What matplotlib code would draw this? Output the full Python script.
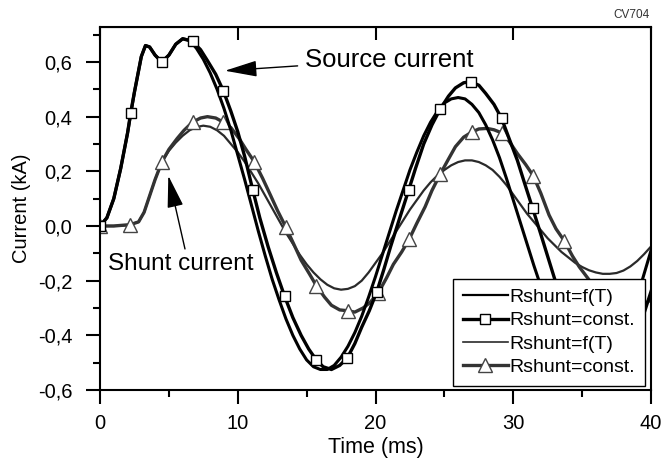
import matplotlib
matplotlib.use("Agg")
import matplotlib.pyplot as plt
from matplotlib.lines import Line2D
from matplotlib.ticker import MultipleLocator, FuncFormatter

plt.rcParams['font.family'] = ['Liberation Sans', 'DejaVu Sans']

# source current, Rshunt=f(T)
src_ft_t = [0, 0.5, 1, 1.5, 2, 2.5, 3, 3.3, 3.6, 4, 4.5, 5, 5.5, 6, 6.5, 7, 7.5, 8, 8.5, 9,
            9.5, 10, 10.5, 11, 11.5, 12, 12.5, 13, 13.5, 14, 14.5, 15, 15.5, 16, 16.5, 17,
            17.5, 18, 18.5, 19, 19.5, 20, 20.5, 21, 21.5, 22, 22.5, 23, 23.5, 24, 24.5, 25,
            25.5, 26, 26.5, 27, 27.5, 28, 28.5, 29, 29.5, 30, 30.5, 31, 31.5, 32, 33, 34,
            35, 36, 37, 38, 39, 40]
src_ft_i = [0.0, 0.03, 0.10, 0.21, 0.34, 0.49, 0.62, 0.66, 0.655, 0.625, 0.60, 0.625, 0.665,
            0.685, 0.68, 0.65, 0.61, 0.56, 0.50, 0.43, 0.35, 0.26, 0.17, 0.075, -0.02, -0.11,
            -0.195, -0.27, -0.34, -0.40, -0.45, -0.49, -0.515, -0.525, -0.525, -0.51, -0.48,
            -0.44, -0.39, -0.33, -0.26, -0.185, -0.105, -0.025, 0.055, 0.13, 0.205, 0.27, 0.33,
            0.38, 0.42, 0.45, 0.465, 0.47, 0.465, 0.445, 0.415, 0.37, 0.315, 0.25, 0.175, 0.095,
            0.015, -0.065, -0.145, -0.22, -0.35, -0.45, -0.50, -0.51, -0.48, -0.40, -0.26, -0.09]

# source current, Rshunt=const.
src_c_t = [0, 0.5, 1, 1.5, 2, 2.23, 2.5, 3, 3.3, 3.6, 4, 4.48, 5, 5.5, 6, 6.72, 7.3, 7.8, 8.4,
           8.95, 9.5, 10, 10.5, 11.1, 11.6, 12.2, 12.8, 13.4, 14, 14.6, 15.15, 15.7, 16.2, 16.8,
           17.4, 17.95, 18.5, 19, 19.55, 20.1, 20.6, 21.1, 21.7, 22.4, 22.9, 23.5, 24.1, 24.7,
           25.3, 25.8, 26.4, 26.9, 27.5, 28, 28.6, 29.15, 29.7, 30.3, 30.8, 31.4, 32, 32.8, 33.6,
           34.5, 35.5, 36.5, 37.5, 38.5, 39.3, 40]
src_c_i = [0.0, 0.03, 0.10, 0.21, 0.34, 0.415, 0.49, 0.62, 0.66, 0.655, 0.625, 0.60, 0.625,
           0.665, 0.685, 0.675, 0.645, 0.605, 0.555, 0.495, 0.42, 0.345, 0.255, 0.13, 0.03,
           -0.075, -0.17, -0.257, -0.335, -0.40, -0.45, -0.49, -0.515, -0.525, -0.51, -0.483,
           -0.43, -0.37, -0.31, -0.24, -0.16, -0.075, 0.02, 0.13, 0.21, 0.30, 0.37, 0.428, 0.475,
           0.505, 0.524, 0.528, 0.515, 0.485, 0.445, 0.394, 0.32, 0.24, 0.16, 0.066, -0.03,
           -0.16, -0.29, -0.40, -0.49, -0.53, -0.52, -0.45, -0.35, -0.24]
src_mk_t = [0, 2.23, 4.48, 6.72, 8.95, 11.1, 13.4, 15.7, 17.95, 20.1, 22.4, 24.7, 26.9, 29.15,
            31.4, 33.6, 35.9, 38.1]
src_mk_i = [0.0, 0.415, 0.60, 0.675, 0.495, 0.13, -0.257, -0.49, -0.483, -0.24, 0.13, 0.428,
            0.528, 0.394, 0.066, -0.29, -0.51, -0.48]

# shunt current, Rshunt=f(T)
sh_ft_t = [0, 1, 2, 2.8, 3.2, 3.6, 4, 4.5, 5, 5.5, 6, 6.5, 7, 7.5, 8, 8.5, 9, 9.5, 10, 10.5,
           11, 11.5, 12, 12.5, 13, 13.5, 14, 14.5, 15, 15.5, 16, 16.5, 17, 17.5, 18, 18.5, 19,
           19.5, 20, 20.5, 21, 21.5, 22, 22.5, 23, 23.5, 24, 24.5, 25, 25.5, 26, 26.5, 27, 27.5,
           28, 28.5, 29, 29.5, 30, 30.5, 31, 31.5, 32, 32.5, 33, 33.5, 34, 34.5, 35, 35.5, 36,
           36.5, 37, 37.5, 38, 38.5, 39, 39.5, 40]
sh_ft_i = [0.0, 0.0, 0.003, 0.015, 0.05, 0.11, 0.17, 0.235, 0.275, 0.305, 0.33, 0.35, 0.362,
           0.367, 0.363, 0.35, 0.33, 0.30, 0.27, 0.235, 0.195, 0.155, 0.11, 0.065, 0.02, -0.025,
           -0.065, -0.105, -0.14, -0.17, -0.195, -0.215, -0.228, -0.233, -0.23, -0.22, -0.20,
           -0.17, -0.135, -0.10, -0.06, -0.02, 0.02, 0.06, 0.095, 0.13, 0.16, 0.185, 0.205,
           0.222, 0.234, 0.24, 0.24, 0.234, 0.222, 0.205, 0.18, 0.15, 0.115, 0.08, 0.045, 0.015,
           -0.015, -0.045, -0.07, -0.095, -0.115, -0.135, -0.15, -0.162, -0.17, -0.175, -0.175,
           -0.172, -0.163, -0.148, -0.128, -0.103, -0.075]

# shunt current, Rshunt=const.
sh_c_t = [0, 1, 2.2, 2.8, 3.2, 3.6, 4.0, 4.5, 5.0, 5.6, 6.1, 6.72, 7.3, 7.8, 8.4, 8.95, 9.5,
          10.1, 10.6, 11.2, 11.8, 12.4, 12.9, 13.5, 14.1, 14.6, 15.2, 15.7, 16.3, 16.8, 17.4,
          17.97, 18.5, 19.1, 19.6, 20.2, 20.8, 21.3, 21.9, 22.45, 23.0, 23.6, 24.1, 24.7, 25.3,
          25.8, 26.4, 26.97, 27.5, 28.1, 28.6, 29.2, 29.7, 30.3, 30.9, 31.45, 32.0, 32.6, 33.1,
          33.7, 34.3, 34.8, 35.4, 35.9, 37.0, 38.2, 39.2, 40]
sh_c_i = [0.0, 0.0, 0.005, 0.015, 0.05, 0.11, 0.17, 0.235, 0.28, 0.32, 0.35, 0.38, 0.395,
          0.40, 0.395, 0.38, 0.36, 0.32, 0.28, 0.235, 0.175, 0.11, 0.055, -0.005, -0.07, -0.125,
          -0.175, -0.218, -0.26, -0.29, -0.307, -0.31, -0.315, -0.30, -0.28, -0.245, -0.19,
          -0.14, -0.095, -0.048, 0.01, 0.07, 0.13, 0.19, 0.245, 0.29, 0.325, 0.343, 0.355,
          0.357, 0.352, 0.34, 0.31, 0.265, 0.225, 0.184, 0.12, 0.04, -0.01, -0.054, -0.11,
          -0.15, -0.19, -0.225, -0.285, -0.31, -0.295, -0.27]
sh_mk_t = [0, 2.2, 4.5, 6.72, 8.95, 11.2, 13.5, 15.7, 17.97, 20.2, 22.45, 24.7, 26.97, 29.2,
           31.45, 33.7, 35.9, 38.2]
sh_mk_i = [0.0, 0.005, 0.235, 0.38, 0.38, 0.235, -0.005, -0.218, -0.31, -0.245, -0.048, 0.19,
           0.343, 0.34, 0.184, -0.054, -0.225, -0.31]

legend_labels = ['Rshunt=f(T)', 'Rshunt=const.', 'Rshunt=f(T)', 'Rshunt=const.']

fig = plt.figure(figsize=(6.62, 4.63), dpi=100)
ax = fig.add_axes([100 / 662, 1 - 390 / 463, 551 / 662, 363 / 463])

grey = '#333333'
ax.plot(sh_ft_t, sh_ft_i, color='#2a2a2a', lw=1.6, solid_joinstyle='round')
ax.plot(sh_c_t, sh_c_i, color=grey, lw=2.4, solid_joinstyle='round')
ax.plot(sh_mk_t, sh_mk_i, ls='none', marker='^', ms=9.5, mfc='white', mec='#444444', mew=1.0)
ax.plot(src_ft_t, src_ft_i, color='black', lw=2.2, solid_joinstyle='round')
ax.plot(src_c_t, src_c_i, color='black', lw=2.4, solid_joinstyle='round')
ax.plot(src_mk_t, src_mk_i, ls='none', marker='s', ms=7, mfc='white', mec='black', mew=1.0)

ax.set_xlim(0, 40)
ax.set_ylim(-0.6, 0.728)
ax.xaxis.set_major_locator(MultipleLocator(10))
ax.xaxis.set_minor_locator(MultipleLocator(5))
ax.yaxis.set_major_locator(MultipleLocator(0.2))
ax.yaxis.set_minor_locator(MultipleLocator(0.1))
ax.yaxis.set_major_formatter(FuncFormatter(lambda v, p: f'{v:.1f}'.replace('.', ',').replace('-0,0', '0,0')))
ax.xaxis.set_major_formatter(FuncFormatter(lambda v, p: f'{v:.0f}'))
for s in ax.spines.values():
    s.set_linewidth(1.5)
ax.tick_params(which='major', direction='out', length=10, width=1.5, labelsize=14.5)
ax.tick_params(which='minor', direction='out', length=5, width=1.5)
ax.tick_params(axis='y', which='major', pad=10)
ax.tick_params(axis='x', which='major', pad=7)

top = ax.secondary_xaxis('top')
top.xaxis.set_major_locator(MultipleLocator(10))
top.tick_params(direction='in', length=9, width=1.5, labeltop=False)

ax.set_xlabel('Time (ms)', fontsize=15.5, labelpad=3)
ax.set_ylabel('Current (kA)', fontsize=14.5, labelpad=5)

ax.annotate('Source current', xy=(9.07, 0.568), xytext=(14.85, 0.608), fontsize=18.5,
            va='center', ha='left',
            arrowprops=dict(arrowstyle='-|>,head_length=1.0,head_width=0.25', color='black',
                            lw=1.0, mutation_scale=20, shrinkA=3, shrinkB=0))
ax.annotate('', xy=(4.96, 0.184), xytext=(6.17, -0.084),
            arrowprops=dict(arrowstyle='-|>,head_length=1.0,head_width=0.25', color='black',
                            lw=1.0, mutation_scale=20, shrinkA=0, shrinkB=0))
ax.text(5.84, -0.139, 'Shunt current', fontsize=17.5, ha='center', va='center')

fig.text(650 / 662, 1 - 15 / 463, 'CV704', fontsize=8.5, ha='right', va='center', color='#333333')

handles = [
    Line2D([], [], color='black', lw=1.6),
    Line2D([], [], color='black', lw=2.4, marker='s', ms=7, mfc='white', mec='black', mew=1.0),
    Line2D([], [], color='#2a2a2a', lw=1.2),
    Line2D([], [], color=grey, lw=2.4, marker='^', ms=9.5, mfc='white', mec='#444444', mew=1.0),
]
leg = ax.legend(handles, legend_labels, loc='lower right', fontsize=14,
                bbox_to_anchor=(645 / 662, 1 - 386 / 463), bbox_transform=fig.transFigure,
                borderaxespad=0, frameon=True, fancybox=False, framealpha=1,
                edgecolor='black', handlelength=2.3, handletextpad=0.1,
                labelspacing=0.3, borderpad=0.5)
leg.get_frame().set_linewidth(1.0)
leg.set_zorder(10)

fig.savefig('out.png', dpi=100)
